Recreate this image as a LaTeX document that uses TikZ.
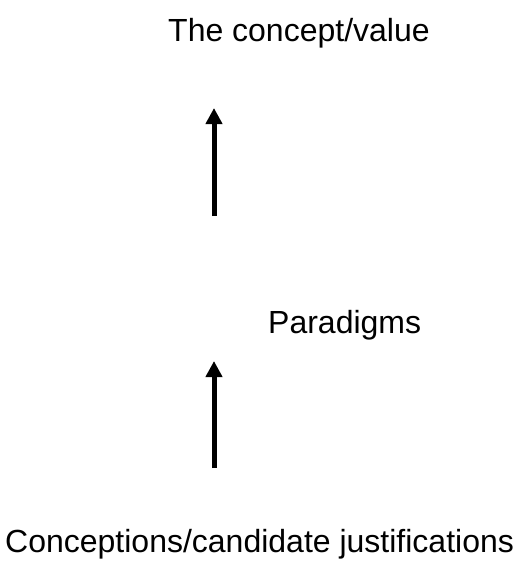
\documentclass[tikz,border=0pt]{standalone}
\usepackage{fontspec}
\setmainfont{Liberation Sans}
\usepackage{tikz}
\usetikzlibrary{arrows.meta}

\begin{document}
\begin{tikzpicture}[x=1pt,y=-1pt,
  lbl/.style={inner sep=0pt,anchor=base west,font=\fontsize{32}{38}\selectfont},
  uparrow/.style={line width=5pt,-{Triangle[width=16pt,length=16pt]}}]
\useasboundingbox (0,0) rectangle (523,563);
% the three levels
\node[lbl] (concept) at (168,41) {The concept/value};
\node[lbl] (paradigms) at (268,333) {Paradigms};
\node[lbl] (conceptions) at (5,552) {Conceptions/candidate justifications};
% arrows pointing up
\coordinate (upper tail) at (214,216);
\coordinate (upper tip) at (214,108);
\coordinate (lower tail) at (214,468);
\coordinate (lower tip) at (214,361);
\draw[uparrow] (upper tail) -- (upper tip);
\draw[uparrow] (lower tail) -- (lower tip);
\end{tikzpicture}
\end{document}
